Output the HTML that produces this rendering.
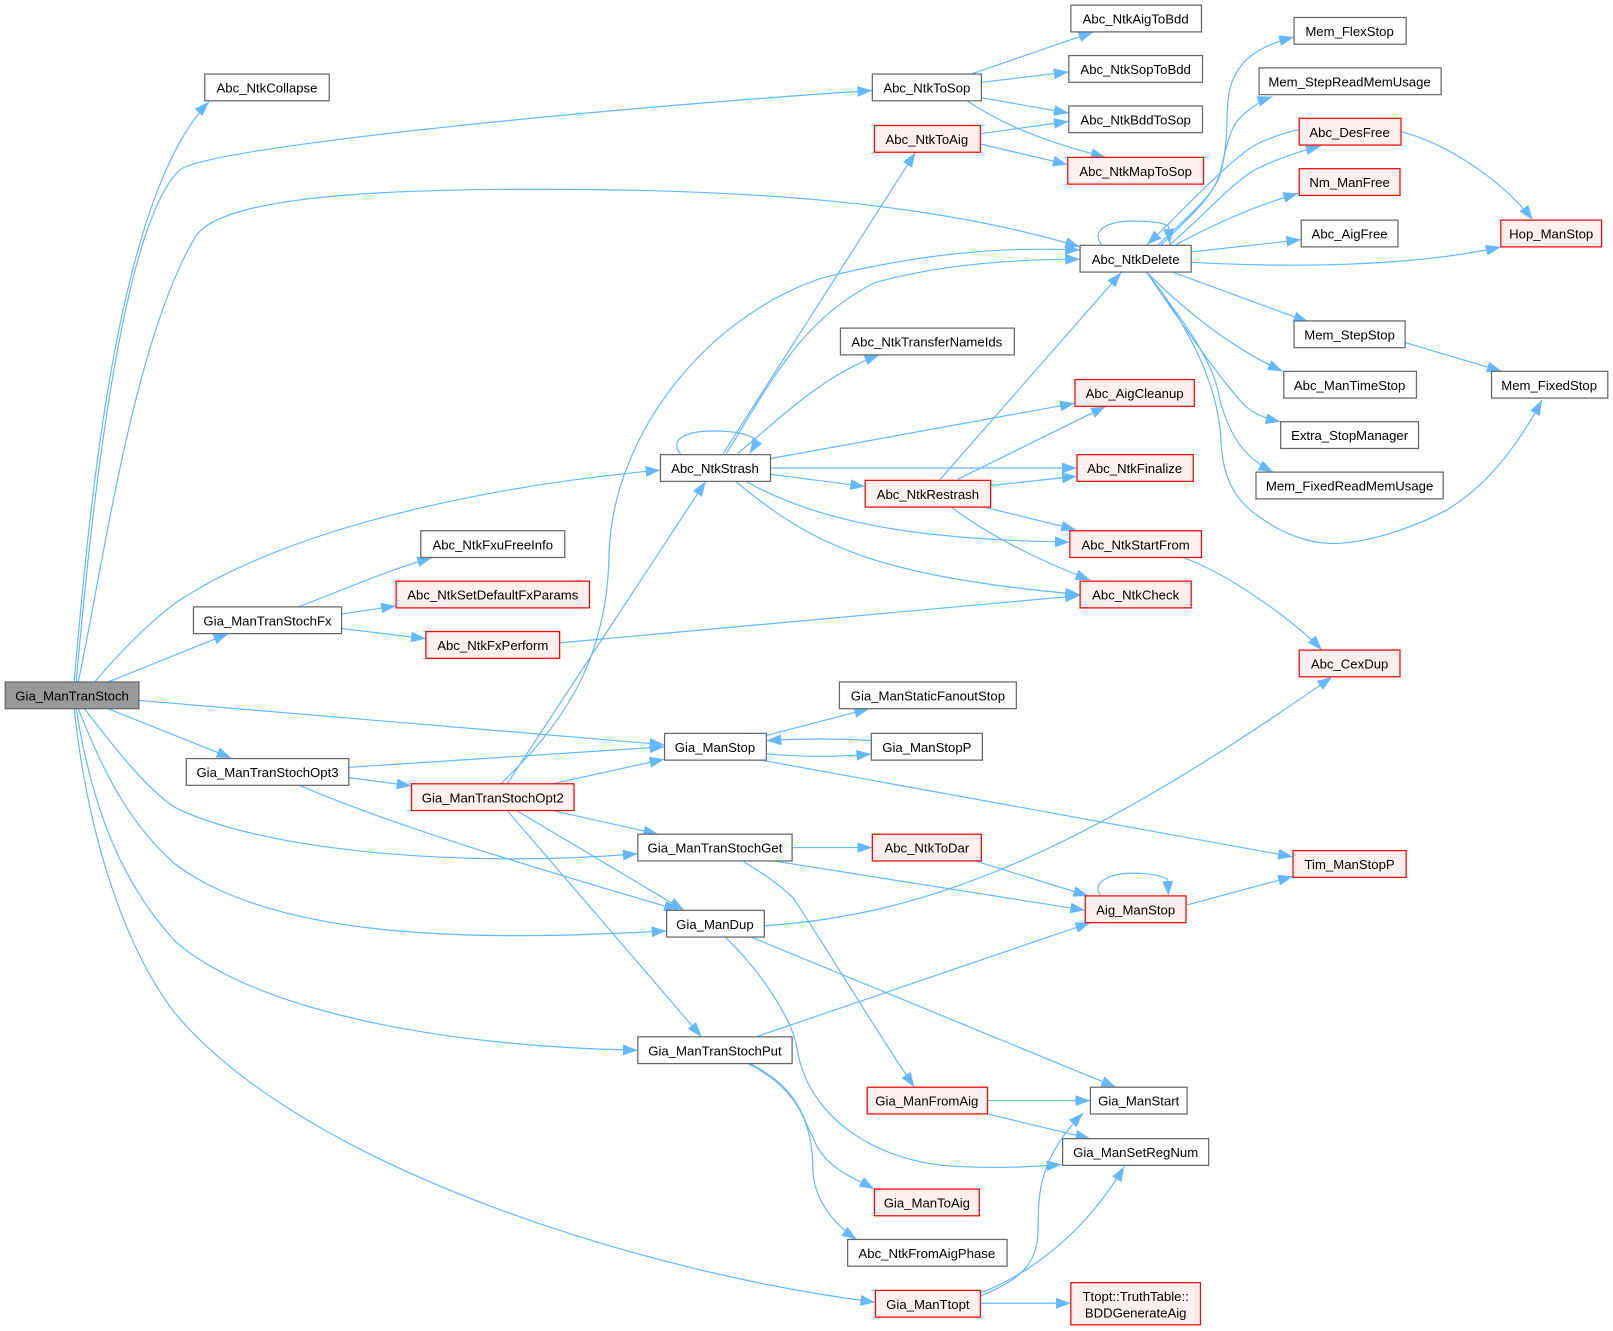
<!DOCTYPE html>
<html><head><meta charset="utf-8"><style>
html,body{margin:0;padding:0;background:#fff}
svg{display:block}
text{font-family:"Liberation Sans",Arial,sans-serif;font-size:12.8px;fill:#000;text-anchor:middle}
.e path{fill:none;stroke:#63b8ff;stroke-width:1.15;marker-end:url(#a)}
.n rect{fill:#fff;stroke:#666;stroke-width:1.2}
.r rect{fill:#fff0f0;stroke:#f00;stroke-width:1.2}
</style></head><body>
<svg width="1613" height="1331" viewBox="0 0 1568 1294" xmlns="http://www.w3.org/2000/svg">
<defs><marker id="a" markerUnits="userSpaceOnUse" markerWidth="16" markerHeight="12" refX="14.5" refY="5.25" orient="auto"><polygon points="0,0 14.5,5.25 0,10.500" fill="#63b8ff"/></marker></defs>
<g class="e">
<path d="M72,663 C88,480 115,190 203,99"/>
<path d="M74,663 C86,530 115,220 175,165 C205,142 600,104 848,88"/>
<path d="M76,663 C100,550 130,330 190,230 C212,196 330,184 520,184 C720,184 900,195 1050,240"/>
<path d="M92,663 C120,630 155,595 180,580 C300,505 500,470 642,457"/>
<path d="M105,663 L222,616"/>
<path d="M135,681 L646,724"/>
<path d="M105,689 L225,737"/>
<path d="M82,689 C110,725 140,765 170,785 C250,825 440,845 620,830"/>
<path d="M76,689 C100,750 125,800 170,840 C270,915 470,915 648,905"/>
<path d="M74,689 C90,790 120,860 170,915 C250,985 440,1018 620,1021"/>
<path d="M72,689 C85,810 120,920 170,985 C300,1140 640,1240 851,1266"/>
<path d="M290,590 C330,575 375,555 420,542"/>
<path d="M332,597 L385,589"/>
<path d="M332,611 L414,621"/>
<path d="M544,625 L1050,579"/>
<path d="M339,746 L646,726"/>
<path d="M339,756 L400,764"/>
<path d="M292,764 C400,810 560,855 660,885"/>
<path d="M487,762 C540,710 590,650 592,540 C594,430 680,310 800,270 C900,245 980,240 1050,243"/>
<path d="M493,762 L686,468"/>
<path d="M537,762 L646,738"/>
<path d="M537,788 L640,811"/>
<path d="M502,788 L665,885"/>
<path d="M493,788 L682,1008"/>
<path d="M944,72 L1063,31"/>
<path d="M954,80 L1039,70"/>
<path d="M954,95 L1039,110"/>
<path d="M940,98 C980,125 1025,140 1075,153"/>
<path d="M953,130 L1039,118"/>
<path d="M953,140 L1038,160"/>
<path d="M662,442 C650,428 665,419 693,419 C715,419 730,422 736,429 L729,441"/>
<path d="M703,441 L890,148"/>
<path d="M706,441 C750,370 780,310 850,275 C920,255 1000,252 1050,252"/>
<path d="M717,441 C760,405 800,365 855,345"/>
<path d="M748,446 L1045,392"/>
<path d="M748,455 L1047,455"/>
<path d="M748,461 L841,473"/>
<path d="M725,468 C800,510 900,525 1040,527"/>
<path d="M715,468 C790,530 850,560 1050,578"/>
<path d="M914,466 L1090,265"/>
<path d="M931,466 L1075,395"/>
<path d="M963,472 L1047,463"/>
<path d="M957,493 L1046,515"/>
<path d="M925,493 C960,520 1010,545 1060,564"/>
<path d="M1150,542 C1200,560 1265,610 1285,632"/>
<path d="M1071,238 C1060,225 1075,215 1101,215 C1120,215 1130,216 1136,220 L1137,237"/>
<path d="M1126,238 C1155,210 1180,190 1186,170 C1196,135 1190,110 1196,85 C1204,55 1230,43 1258,36"/>
<path d="M1129,238 C1158,210 1180,190 1186,168 C1192,145 1195,125 1205,115 C1215,105 1225,98 1237,94"/>
<path d="M1137,238 C1170,210 1195,180 1220,165 C1240,155 1260,148 1284,142"/>
<path d="M1263,126 C1245,130 1230,136 1220,141 C1190,160 1150,205 1115,238"/>
<path d="M1143,238 C1180,218 1220,200 1262,188"/>
<path d="M1158,245 L1265,233"/>
<path d="M1158,255 C1250,260 1370,260 1459,240"/>
<path d="M1141,265 L1272,313"/>
<path d="M1115,265 C1145,295 1190,335 1247,361"/>
<path d="M1115,265 C1135,295 1190,375 1212,396 C1222,404 1235,408 1245,410"/>
<path d="M1115,265 C1145,305 1180,350 1185,385 C1195,425 1210,445 1238,459"/>
<path d="M1115,265 C1150,310 1185,370 1187,430 C1189,470 1205,490 1225,503 C1255,525 1285,530 1305,528 C1340,525 1380,510 1406,496 C1450,470 1480,425 1499,389"/>
<path d="M1362,128 C1410,140 1465,180 1490,214"/>
<path d="M1366,333 L1460,361"/>
<path d="M745,715 L845,689"/>
<path d="M745,733 C780,736 815,736 847,733"/>
<path d="M847,720 C815,718 780,718 745,720"/>
<path d="M740,739 L1257,833"/>
<path d="M770,824 L848,824"/>
<path d="M752,837 L1055,885"/>
<path d="M723,838 C740,848 758,860 771,873 C790,900 850,1000 889,1057"/>
<path d="M948,837 L1058,871"/>
<path d="M1071,872 C1060,860 1075,849 1101,849 C1120,849 1130,852 1135,855 L1136,871"/>
<path d="M1153,880 L1257,852"/>
<path d="M743,900 C900,890 1050,830 1295,658"/>
<path d="M730,911 L1085,1057"/>
<path d="M705,911 C740,945 770,990 775,1020 C785,1085 850,1130 930,1134 C970,1136 1000,1135 1032,1132"/>
<path d="M735,1008 L1060,897"/>
<path d="M729,1034 C780,1060 780,1090 790,1105 C800,1135 830,1145 850,1156"/>
<path d="M727,1034 C780,1060 790,1100 790,1134 C790,1165 810,1190 833,1205"/>
<path d="M960,1070 L1060,1070"/>
<path d="M960,1083 L1060,1107"/>
<path d="M953,1260 C990,1245 1008,1230 1009,1199 C1010,1170 1005,1130 1053,1082"/>
<path d="M953,1257 C1010,1235 1060,1190 1093,1134"/>
<path d="M953,1267 L1041,1267"/>
</g>
<g class="n"><rect x="5" y="663" width="130" height="26" style="fill:#999"/><text x="70" y="681">Gia_ManTranStoch</text></g>
<g class="n"><rect x="199" y="72" width="121" height="26"/><text x="259.5" y="90">Abc_NtkCollapse</text></g>
<g class="n"><rect x="188" y="590" width="144" height="26"/><text x="260" y="608">Gia_ManTranStochFx</text></g>
<g class="n"><rect x="181" y="737.500" width="158" height="26"/><text x="260" y="755.500">Gia_ManTranStochOpt3</text></g>
<g class="n"><rect x="409" y="516" width="140" height="26"/><text x="479" y="534">Abc_NtkFxuFreeInfo</text></g>
<g class="r"><rect x="385" y="565" width="188" height="26"/><text x="479" y="583">Abc_NtkSetDefaultFxParams</text></g>
<g class="r"><rect x="414" y="614" width="130" height="26"/><text x="479" y="632">Abc_NtkFxPerform</text></g>
<g class="r"><rect x="400" y="762" width="158" height="26"/><text x="479" y="780">Gia_ManTranStochOpt2</text></g>
<g class="n"><rect x="642" y="442" width="107" height="26"/><text x="695" y="460">Abc_NtkStrash</text></g>
<g class="n"><rect x="646" y="713" width="99" height="26"/><text x="695" y="731">Gia_ManStop</text></g>
<g class="n"><rect x="620" y="811" width="150" height="26"/><text x="695" y="829">Gia_ManTranStochGet</text></g>
<g class="n"><rect x="648" y="885" width="95" height="26"/><text x="695" y="903">Gia_ManDup</text></g>
<g class="n"><rect x="620" y="1008" width="150" height="26"/><text x="695" y="1026">Gia_ManTranStochPut</text></g>
<g class="n"><rect x="848" y="72" width="106" height="26"/><text x="901" y="90">Abc_NtkToSop</text></g>
<g class="r"><rect x="850" y="122" width="103" height="26"/><text x="901" y="140">Abc_NtkToAig</text></g>
<g class="n"><rect x="817" y="319" width="169" height="26"/><text x="901" y="337">Abc_NtkTransferNameIds</text></g>
<g class="r"><rect x="841" y="467" width="122" height="26"/><text x="902" y="485">Abc_NtkRestrash</text></g>
<g class="n"><rect x="816" y="663" width="172" height="26"/><text x="902" y="681">Gia_ManStaticFanoutStop</text></g>
<g class="n"><rect x="847" y="713" width="108" height="26"/><text x="901" y="731">Gia_ManStopP</text></g>
<g class="r"><rect x="848" y="811" width="106" height="26"/><text x="901" y="829">Abc_NtkToDar</text></g>
<g class="r"><rect x="843" y="1057" width="117" height="26"/><text x="901" y="1075">Gia_ManFromAig</text></g>
<g class="r"><rect x="850" y="1156" width="102" height="26"/><text x="901" y="1174">Gia_ManToAig</text></g>
<g class="n"><rect x="824" y="1205" width="155" height="26"/><text x="901" y="1223">Abc_NtkFromAigPhase</text></g>
<g class="r"><rect x="851" y="1254.500" width="102" height="26"/><text x="902" y="1272.500">Gia_ManTtopt</text></g>
<g class="n"><rect x="1041" y="5" width="127" height="26"/><text x="1104" y="23">Abc_NtkAigToBdd</text></g>
<g class="n"><rect x="1039" y="54" width="130" height="26"/><text x="1104" y="72">Abc_NtkSopToBdd</text></g>
<g class="n"><rect x="1039" y="103" width="130" height="26"/><text x="1104" y="121">Abc_NtkBddToSop</text></g>
<g class="r"><rect x="1038" y="153" width="132" height="26"/><text x="1104" y="171">Abc_NtkMapToSop</text></g>
<g class="n"><rect x="1050" y="238.500" width="108" height="26"/><text x="1104" y="256.500">Abc_NtkDelete</text></g>
<g class="r"><rect x="1045" y="369" width="116" height="26"/><text x="1103" y="387">Abc_AigCleanup</text></g>
<g class="r"><rect x="1047" y="442" width="113" height="26"/><text x="1103" y="460">Abc_NtkFinalize</text></g>
<g class="r"><rect x="1040" y="516" width="128" height="26"/><text x="1104" y="534">Abc_NtkStartFrom</text></g>
<g class="r"><rect x="1050" y="565" width="108" height="26"/><text x="1104" y="583">Abc_NtkCheck</text></g>
<g class="r"><rect x="1055" y="871" width="98" height="26"/><text x="1104" y="889">Aig_ManStop</text></g>
<g class="n"><rect x="1060" y="1057" width="94" height="26"/><text x="1107" y="1075">Gia_ManStart</text></g>
<g class="n"><rect x="1033" y="1107" width="142" height="26"/><text x="1104" y="1125">Gia_ManSetRegNum</text></g>
<g class="r"><rect x="1041" y="1247" width="126" height="41"/><text x="1104" y="1265">Ttopt::TruthTable::</text><text x="1104" y="1281">BDDGenerateAig</text></g>
<g class="n"><rect x="1258" y="17" width="109" height="26"/><text x="1312" y="35">Mem_FlexStop</text></g>
<g class="n"><rect x="1224" y="66" width="177" height="26"/><text x="1312" y="84">Mem_StepReadMemUsage</text></g>
<g class="r"><rect x="1263" y="115" width="99" height="26"/><text x="1312" y="133">Abc_DesFree</text></g>
<g class="r"><rect x="1263" y="164" width="98" height="26"/><text x="1312" y="182">Nm_ManFree</text></g>
<g class="n"><rect x="1265" y="214" width="94" height="26"/><text x="1312" y="232">Abc_AigFree</text></g>
<g class="n"><rect x="1258" y="312" width="108" height="26"/><text x="1312" y="330">Mem_StepStop</text></g>
<g class="n"><rect x="1248" y="361" width="129" height="26"/><text x="1312" y="379">Abc_ManTimeStop</text></g>
<g class="n"><rect x="1245" y="410" width="134" height="26"/><text x="1312" y="428">Extra_StopManager</text></g>
<g class="n"><rect x="1221" y="459" width="182" height="26"/><text x="1312" y="477">Mem_FixedReadMemUsage</text></g>
<g class="r"><rect x="1263" y="632" width="98" height="26"/><text x="1312" y="650">Abc_CexDup</text></g>
<g class="r"><rect x="1257" y="827" width="110" height="26"/><text x="1312" y="845">Tim_ManStopP</text></g>
<g class="r"><rect x="1459" y="214" width="98" height="26"/><text x="1508" y="232">Hop_ManStop</text></g>
<g class="n"><rect x="1450" y="361" width="113" height="26"/><text x="1506" y="379">Mem_FixedStop</text></g>
</svg>
</body></html>
